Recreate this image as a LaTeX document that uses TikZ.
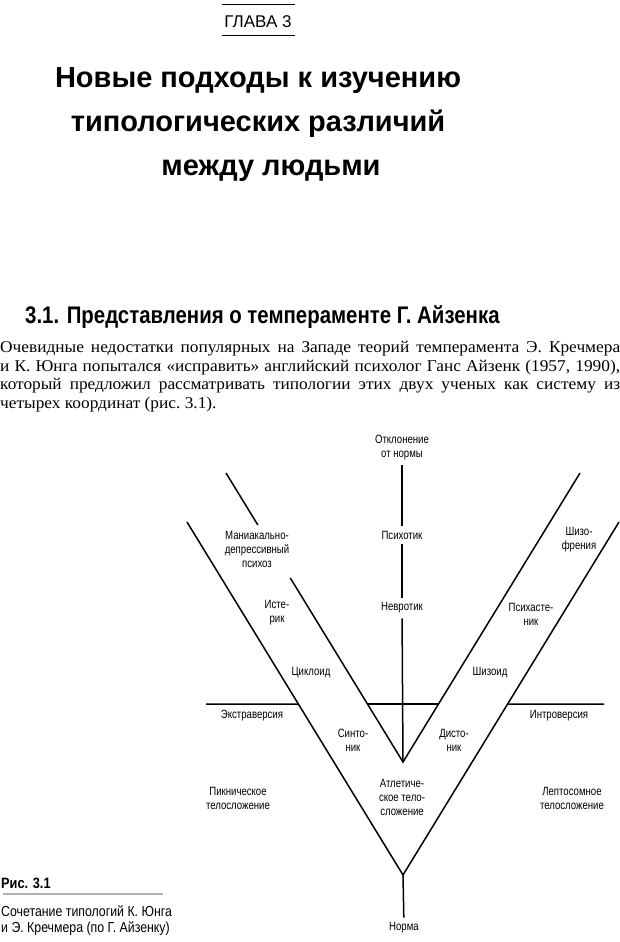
\documentclass[tikz,border=0pt]{standalone}
\usepackage{fontspec}
\setmainfont{Liberation Serif}[FakeStretch=1.05]
\newfontfamily\lblfont[FakeStretch=0.8]{Liberation Sans}
\newfontfamily\headfont[FakeStretch=0.85]{Liberation Sans}
\newfontfamily\titlefont{Liberation Sans}
\usetikzlibrary{calc}

\begin{document}
\begin{tikzpicture}[
  x=1pt, y=-1pt,
  lbl/.style={align=center, inner sep=1pt, outer sep=4pt,
              font=\lblfont\fontsize{12}{14}\selectfont},
  axis/.style={line width=1.5pt, draw=black},
  rule/.style={line width=0.8pt, draw=black},
  titleline/.style={font=\titlefont\bfseries\fontsize{29}{29}\selectfont, inner sep=0pt, anchor=base}
]
\useasboundingbox (0,0) rectangle (620,942);

% ==================== CHAPTER HEADER ====================
\node[font=\titlefont\fontsize{17}{17}\selectfont, inner sep=0pt, anchor=base] (chap) at (258,28) {ГЛАВА 3};
\draw[rule] (222,4) -- (295,4);
\draw[rule] (222,35) -- (295,35);

\node[titleline] (title1) at (258,87) {Новые подходы к изучению};
\node[titleline] (title2) at (258,131) {типологических различий};
\node[titleline] (title3) at (271,175) {между людьми};

% ==================== SECTION ====================
\node[font=\headfont\bfseries\fontsize{24}{24}\selectfont, inner sep=0pt, anchor=base west] (sect) at (25,323)
  {3.1. Представления о темпераменте Г. Айзенка};

\node[anchor=north west, inner sep=0pt, text width=620pt, align=justify,
      font=\fontsize{16.5}{18.7}\selectfont] (body) at (0,341)
  {Очевидные недостатки популярных на Западе теорий темперамента Э.~Кречмера\linebreak
   и К.~Юнга попытался «исправить» английский психолог Ганс Айзенк (1957, 1990),\linebreak
   который предложил рассматривать типологии этих двух ученых как систему из\linebreak
   четырех координат (рис.~3.1).};

% ==================== LABELS ====================
\node[lbl] (otkl) at (402,448) {Отклонение\\от нормы};
\node[lbl] (psyh) at (402,535) {Психотик};
\node[lbl] (nevr) at (402,608) {Невротик};
\node[lbl] (mdp) at (257,549) {Маниакально-\\депрессивный\\психоз};
\node[lbl] (ister) at (277,613) {Исте-\\рик};
\node[lbl] (cikl) at (311,673) {Циклоид};
\node[lbl] (shizofr) at (579,540) {Шизо-\\френия};
\node[lbl] (psyhast) at (531,614) {Психасте-\\ник};
\node[lbl] (shizoid) at (490,673) {Шизоид};
\node[lbl] (extra) at (252,716) {Экстраверсия};
\node[lbl] (intro) at (559,716) {Интроверсия};
\node[lbl] (sinton) at (353,740) {Синто-\\ник};
\node[lbl] (diston) at (454,740) {Дисто-\\ник};
\node[lbl] (piknik) at (238,798) {Пикническое\\телосложение};
\node[lbl] (atlet) at (402,797) {Атлетиче-\\ское тело-\\сложение};
\node[lbl] (lepto) at (572,798) {Лептосомное\\телосложение};
\node[lbl] (norma) at (404,928) {Норма};

% ==================== LINES ====================
\coordinate (iv) at (403,762);
\coordinate (ov) at (403,875);
\coordinate (ilt) at (226,473);
\coordinate (irt) at (580,473);
\coordinate (olt) at (187,522);
\coordinate (ort) at (619,522);
\coordinate (hl) at (206,704);
\coordinate (hr) at (604,704);
\coordinate (ilg1) at ($(iv)!0.637!(ilt)$);
\coordinate (ilg2) at ($(iv)!0.82!(ilt)$);
\coordinate (xol) at (intersection of hl--hr and ov--olt);
\coordinate (xil) at (intersection of hl--hr and iv--ilt);
\coordinate (xir) at (intersection of hl--hr and iv--irt);
\coordinate (xor) at (intersection of hl--hr and ov--ort);

\draw[axis] (olt) -- (ov) -- (ort);
\draw[axis] (irt) -- (iv) -- (ilg1);
\draw[axis] (ilg2) -- (ilt);
\draw[axis] (otkl) -- (psyh);
\draw[axis] (psyh) -- (nevr);
\draw[axis] (nevr) -- (iv);
\draw[axis] (ov) -- (norma);
\draw[axis] (hl) -- (xol);
\draw[axis] (xil) -- (xir);
\draw[axis] (xor) -- (hr);

% ==================== CAPTION ====================
\node[font=\headfont\bfseries\fontsize{15}{15}\selectfont, inner sep=0pt, anchor=base west] (figno) at (1,888) {Рис. 3.1};
\draw[line width=1.6pt, draw=gray!60] (3,894) -- (163,894);
\node[font=\headfont\fontsize{14.5}{16}\selectfont, inner sep=0pt, anchor=north west, align=left] (figcap) at (1,906)
  {Сочетание типологий К. Юнга\\и Э. Кречмера (по Г. Айзенку)};

\end{tikzpicture}
\end{document}
